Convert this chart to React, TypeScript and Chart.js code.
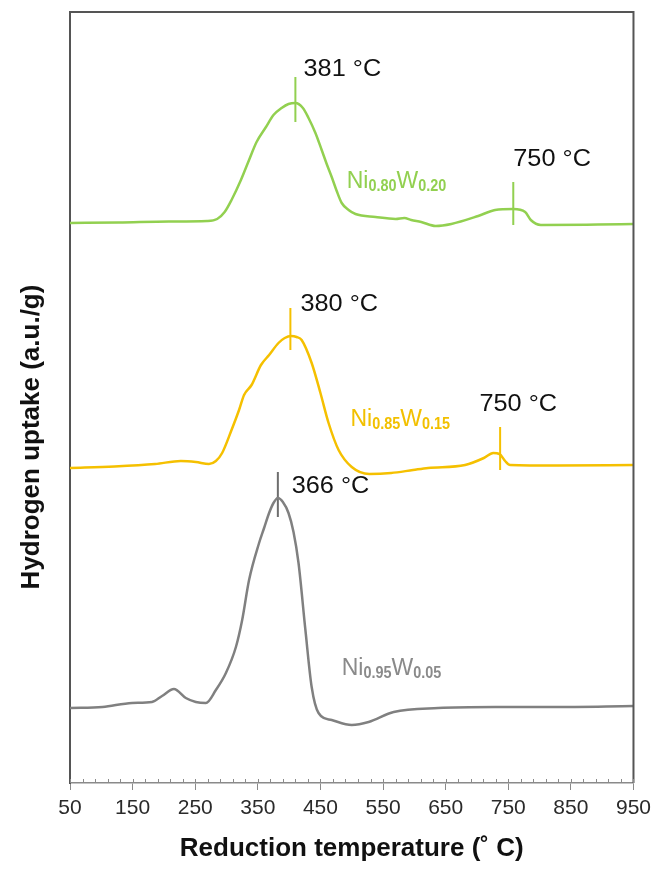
import React, { useEffect, useRef } from 'react';
import { Chart, registerables } from 'chart.js';

Chart.register(...registerables);

// ---------- data ----------
const xTicks = [50, 150, 250, 350, 450, 550, 650, 750, 850, 950];
const minorStep = 20;

const greenTemp = [50, 128, 208, 269, 285, 297, 308, 323, 336, 348, 363, 375, 388, 399, 410, 422, 431, 442, 452, 460, 468, 476, 484, 495, 506, 538, 570, 584, 595, 611, 634, 659, 702, 729, 758, 777, 786, 802, 893, 950];
const greenUptake = [56.0, 56.05, 56.15, 56.2, 56.4, 57.1, 58.3, 60.3, 62.3, 64.1, 65.6, 66.8, 67.5, 67.9, 68.0, 67.5, 66.5, 65.0, 63.3, 61.9, 60.6, 59.2, 58.0, 57.3, 56.9, 56.6, 56.4, 56.5, 56.3, 56.1, 55.7, 55.9, 56.7, 57.3, 57.4, 57.1, 56.3, 55.8, 55.85, 55.9];

const yellowTemp = [50, 121, 186, 227, 251, 272, 283, 293, 308, 320, 328, 340, 355, 368, 383, 393, 403, 412, 420, 436, 450, 463, 479, 500, 528, 563, 598, 622, 681, 711, 726, 736, 745, 753, 829, 950];
const yellowUptake = [31.5, 31.65, 31.9, 32.2, 32.1, 31.9, 32.2, 33.0, 35.3, 37.3, 38.8, 39.8, 41.8, 42.8, 44.0, 44.5, 44.7, 44.6, 44.3, 42.0, 39.0, 36.0, 33.3, 31.6, 30.9, 31.0, 31.3, 31.5, 31.8, 32.5, 33.0, 32.9, 32.2, 31.8, 31.75, 31.8];

const grayTemp = [50, 102, 149, 181, 197, 216, 235, 251, 267, 283, 299, 315, 325, 336, 352, 360, 368, 375, 382, 390, 399, 407, 415, 426, 436, 447, 468, 500, 527, 567, 638, 729, 820, 950];
const grayUptake = [7.5, 7.6, 8.0, 8.1, 8.7, 9.4, 8.5, 8.1, 8.0, 9.3, 11.0, 13.6, 16.3, 20.3, 24.0, 25.5, 27.0, 28.0, 28.5, 28.1, 27.0, 25.1, 22.0, 15.3, 9.6, 7.0, 6.3, 5.8, 6.1, 7.1, 7.5, 7.6, 7.6, 7.7];

// peak markers (vertical ticks)
const markerTemp = [410, 758, 402, 737, 382];
const markerTop = [70.6, 60.1, 47.5, 35.6, 31.1];
const markerBottom = [66.1, 55.8, 43.3, 31.3, 26.6];
const markerSeries = [0, 0, 1, 1, 2];

// peak labels
const peakLabels = ['381 °C', '750 °C', '380 °C', '750 °C', '366 °C'];
const peakLabelTemp = [423, 758, 418, 704, 404];
const peakLabelUptake = [71.3, 62.3, 47.8, 37.8, 29.6];

// sample names: [element, subscript, element, subscript]
const sampleNames = [
  ['Ni', '0.80', 'W', '0.20'],
  ['Ni', '0.85', 'W', '0.15'],
  ['Ni', '0.95', 'W', '0.05'],
];
const nameTemp = [492, 498, 484];
const nameUptake = [59.5, 35.7, 10.8];

const seriesColors = ['#92d050', '#f5c000', '#808080'];
const markerColors = ['#92d050', '#f5c000', '#6e6e6e'];
const nameColors = ['#92d050', '#f2c000', '#8a8a8a'];

const xTitle = 'Reduction temperature (˚ C)';
const yTitle = 'Hydrogen uptake (a.u./g)';

const SANS = '"Liberation Sans", Arial, sans-serif';

const overlay = {
  id: 'overlay',
  afterDraw(chart: any) {
    const { ctx, chartArea: a, scales } = chart;
    const xs = scales.x;
    const ys = scales.y;
    ctx.save();
    // top & right frame
    ctx.strokeStyle = '#555555';
    ctx.lineWidth = 2;
    ctx.beginPath();
    ctx.moveTo(a.left, a.top);
    ctx.lineTo(a.right, a.top);
    ctx.lineTo(a.right, a.bottom);
    ctx.stroke();

    // inner ticks on x axis (minor + major)
    ctx.strokeStyle = '#8a8a8a';
    ctx.lineWidth = 1;
    ctx.beginPath();
    for (let t = xTicks[0]; t <= xTicks[xTicks.length - 1]; t += minorStep) {
      const px = Math.round(xs.getPixelForValue(t)) + 0.5;
      ctx.moveTo(px, a.bottom - 4);
      ctx.lineTo(px, a.bottom);
    }
    ctx.stroke();

    const stretched = (text: string, px: number, py: number, sx: number) => {
      ctx.save();
      ctx.translate(px, py);
      ctx.scale(sx, 1);
      ctx.fillText(text, 0, 0);
      ctx.restore();
      return ctx.measureText(text).width * sx;
    };

    // peak labels
    ctx.fillStyle = '#111111';
    ctx.font = `23px ${SANS}`;
    ctx.textAlign = 'left';
    ctx.textBaseline = 'middle';
    peakLabels.forEach((lab, i) => {
      stretched(lab, xs.getPixelForValue(peakLabelTemp[i]), ys.getPixelForValue(peakLabelUptake[i]), 1.1);
    });

    // sample names with subscripts
    ctx.textBaseline = 'alphabetic';
    sampleNames.forEach((parts, i) => {
      let px = xs.getPixelForValue(nameTemp[i]);
      const py = ys.getPixelForValue(nameUptake[i]);
      ctx.fillStyle = nameColors[i];
      parts.forEach((p, j) => {
        if (j % 2 === 0) {
          ctx.font = `23px ${SANS}`;
          px += stretched(p, px, py, 1.0);
        } else {
          ctx.font = `bold 16px ${SANS}`;
          px += stretched(p, px, py + 3, 0.9);
        }
      });
    });

    // axis titles
    ctx.fillStyle = '#111111';
    ctx.font = `bold 26px ${SANS}`;
    ctx.textAlign = 'center';
    ctx.textBaseline = 'middle';
    ctx.fillText(xTitle, (a.left + a.right) / 2, a.bottom + 66);
    ctx.translate(a.left - 38, 437);
    ctx.rotate(-Math.PI / 2);
    ctx.fillText(yTitle, 0, 0);
    ctx.restore();
  },
};

export default function App() {
  const ref = useRef<HTMLCanvasElement>(null);
  useEffect(() => {
    document.body.style.margin = '0';
    const curve = (temps: number[], vals: number[], color: string) => ({
      data: temps.map((t, i) => ({ x: t, y: vals[i] })),
      borderColor: color,
      borderWidth: 2.5,
      pointRadius: 0,
      cubicInterpolationMode: 'monotone' as const,
      fill: false,
    });
    const markers = markerTemp.map((t, i) => ({
      data: [
        { x: t, y: markerBottom[i] },
        { x: t, y: markerTop[i] },
      ],
      borderColor: markerColors[markerSeries[i]],
      borderWidth: 2,
      pointRadius: 0,
      fill: false,
    }));
    const chart = new Chart(ref.current!, {
      type: 'line',
      data: {
        datasets: [
          curve(greenTemp, greenUptake, seriesColors[0]),
          curve(yellowTemp, yellowUptake, seriesColors[1]),
          curve(grayTemp, grayUptake, seriesColors[2]),
          ...markers,
        ],
      },
      options: {
        animation: false,
        responsive: false,
        layout: { padding: { top: 12, right: 21, left: 0, bottom: 0 } },
        plugins: { legend: { display: false }, tooltip: { enabled: false } },
        scales: {
          x: {
            type: 'linear',
            min: 50,
            max: 950,
            afterBuildTicks: (s: any) => {
              s.ticks = xTicks.map((v) => ({ value: v }));
            },
            afterFit: (s: any) => {
              s.height = 88;
            },
            ticks: {
              autoSkip: false,
              maxRotation: 0,
              padding: 6,
              color: '#2a2a2a',
              font: { family: SANS, size: 21 },
            },
            grid: { drawOnChartArea: false, drawTicks: true, tickLength: 7, color: '#8a8a8a', tickWidth: 1 },
            border: { color: '#8a8a8a', width: 1.5 },
          },
          y: {
            min: 0,
            max: 77.1,
            ticks: { display: false },
            grid: { drawOnChartArea: false, drawTicks: false },
            border: { color: '#555555', width: 2 },
            afterFit: (s: any) => {
              s.width = 70;
            },
          },
        },
      },
      plugins: [overlay],
    });
    return () => chart.destroy();
  }, []);
  return (
    <div style={{ width: 657, height: 871 }}>
      <canvas ref={ref} width={657} height={871} style={{ display: 'block' }} />
    </div>
  );
}
